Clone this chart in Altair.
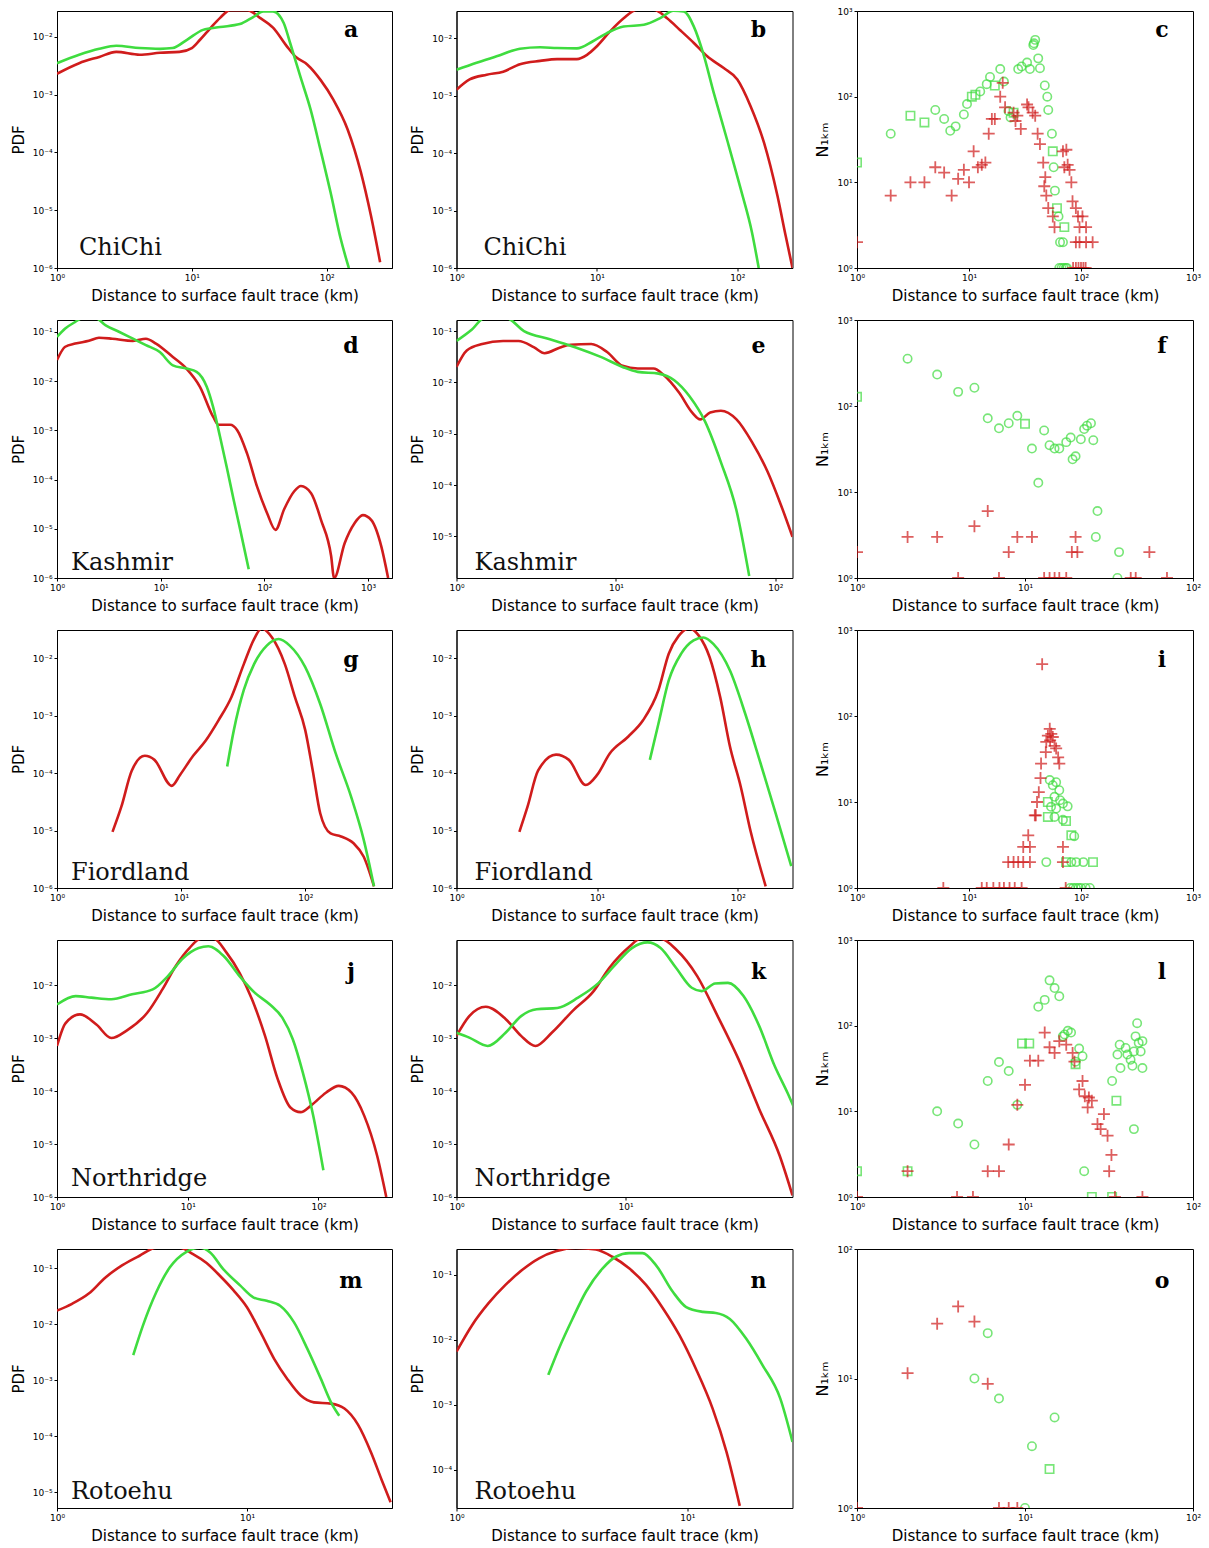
import altair as alt
import pandas as pd

RED = "#d01c1c"
GREEN = "#3fdc3f"
XTITLE = "Distance to surface fault trace (km)"
SUP = ("['10\u207b\u2076','10\u207b\u2075','10\u207b\u2074','10\u207b\u00b3','10\u207b\u00b2',"
       "'10\u207b\u00b9','10\u2070','10\u00b9','10\u00b2','10\u00b3'][round(log(datum.value)/LN10)+6]")
PLUS = "M-1,0L1,0M0,-1L0,1"

# ---------------- Panel a (ChiChi, PDF) ----------------
a_red_x = [1, 1.46, 2.06, 2.75, 4.1, 5.8, 8.1, 10, 11.5, 13.6, 16.2, 19.2, 25.8, 32, 40, 51, 59, 72, 90, 112, 143, 179, 213, 249]
a_red_y = [2.3e-3, 3.5e-3, 4.5e-3, 5.5e-3, 4.9e-3, 5.3e-3, 5.5e-3, 6.4e-3, 8.9e-3, 0.0138, 0.0213, 0.029, 0.029, 0.0213,
           0.0144, 6.7e-3, 4.5e-3, 3.3e-3, 1.8e-3, 8.2e-4, 2.5e-4, 4.6e-5, 8e-6, 1.26e-6]
a_grn_x = [1, 1.46, 2.06, 2.75, 4.1, 5.8, 7.2, 9.2, 12.1, 16.2, 22.7, 28.5, 33.8, 40, 48, 53.5, 64, 76, 90, 107, 127, 146]
a_grn_y = [3.5e-3, 4.9e-3, 6.2e-3, 7e-3, 6.4e-3, 6.2e-3, 6.4e-3, 8.9e-3, 0.0132, 0.0148, 0.0166, 0.022, 0.0275, 0.0275,
           0.0174, 7.9e-3, 2e-3, 5.5e-4, 1.1e-4, 2e-5, 3.2e-6, 1e-6]

# ---------------- Panel b ----------------
b_red_x = [1, 1.24, 1.64, 2.15, 2.83, 3.94, 5.2, 7.2, 8.5, 10, 12.4, 15.5, 19.3, 25.4, 31.6, 39, 49, 61, 80, 100, 124, 155, 193, 221, 247]
b_red_y = [1.26e-3, 1.9e-3, 2.3e-3, 2.6e-3, 3.5e-3, 4e-3, 4.3e-3, 4.3e-3, 5.1e-3, 7.2e-3, 0.013, 0.022, 0.031, 0.031, 0.022,
           0.0138, 8.2e-3, 4.8e-3, 3e-3, 1.9e-3, 6.6e-4, 1.5e-4, 1.8e-5, 3.6e-6, 1e-6]
b_grn_x = [1, 1.39, 1.93, 2.83, 3.94, 5.2, 7.2, 9.3, 11.8, 15.5, 21.6, 28.4, 35, 41.6, 49, 57, 68, 84.5, 106, 127, 142]
b_grn_y = [2.8e-3, 3.7e-3, 4.8e-3, 6.5e-3, 6.9e-3, 6.7e-3, 6.6e-3, 8.7e-3, 0.0122, 0.0158, 0.017, 0.0224, 0.03, 0.029,
           0.0158, 5.5e-3, 1.1e-3, 1.7e-4, 2.3e-5, 4.2e-6, 1e-6]

# ---------------- Panel c (N_1km scatter) ----------------
c_red_x = [1, 2, 3, 4, 5, 6, 7, 8, 9, 10, 11, 12, 13, 14, 15, 16, 17, 19, 20, 21, 25, 26, 27, 29, 33, 34, 37, 39, 41, 43,
           46, 47, 48, 49, 51, 56, 58, 69, 71, 76, 82, 84, 90, 94, 97, 103, 111, 90, 97, 111, 127, 85, 90, 95, 100, 105, 110, 74, 79]
c_red_y = [2, 7, 10, 10, 15, 13, 7, 11, 14, 10, 23, 15, 16, 17, 37, 55, 55, 100, 145, 75, 65, 52, 60, 42, 81, 75, 65, 60, 37, 28,
           17, 9, 11.5, 7, 5, 4, 3, 23, 15, 16, 10, 6, 5, 4, 3, 4, 3, 2, 2, 2, 2, 1, 1, 1, 1, 1, 1, 24, 14]
c_grn_x = [1, 2, 3, 4, 5, 6, 6.8, 7.6, 9, 9.6, 10.6, 11.4, 12.6, 14.4, 15.4, 17, 19, 20.5, 22.5, 23.5,
           25, 27.5, 29.5, 33, 35, 37.5, 39, 38, 41.5, 43, 47.5, 50, 51, 55, 56, 57, 58.5, 61, 63, 71,
           65, 69, 64, 67, 70, 73, 75]
c_grn_y = [17, 37, 60, 50, 70, 55, 40, 45, 62, 82, 100, 105, 115, 140, 170, 135, 210, 150, 68, 57,
           65, 210, 225, 250, 210, 400, 460, 420, 280, 215, 135, 100, 70, 37, 23, 15, 8, 5, 4, 3,
           2, 2, 1, 1, 1, 1, 1]
c_grn_s = ["s", "o", "s", "s", "o", "o", "o", "o", "o", "o", "s", "s", "o", "o", "o", "s", "o", "o", "o", "o",
           "s", "o", "o", "o", "o", "o", "o", "o", "o", "o", "o", "o", "o", "o", "s", "o", "o", "s", "o", "s",
           "o", "o", "o", "o", "o", "o", "o"]

# ---------------- Panel d (Kashmir) ----------------
d_red_x = [1, 1.2, 1.5, 2.03, 2.54, 3.4, 5.4, 7.2, 9, 13.1, 17.7, 23.9, 32, 36, 46.8, 54.5, 68, 85, 106, 128,
           155, 194, 225, 282, 352, 440, 470, 594, 740, 890, 1075, 1340, 1560]
d_red_y = [0.027, 0.05, 0.058, 0.066, 0.076, 0.073, 0.066, 0.073, 0.058, 0.031, 0.018, 7.7e-3, 1.9e-3, 1.3e-3, 1.3e-3,
           1.02e-3, 3.4e-4, 7.2e-5, 2.1e-5, 9.5e-6, 2.5e-5, 5.8e-5, 7.4e-5, 5.3e-5, 1.5e-5, 2.8e-6, 1e-6, 5.1e-6,
           1.3e-5, 1.9e-5, 1.5e-5, 4.4e-6, 1e-6]
d_grn_x = [1, 1.2, 1.5, 1.75, 2.36, 2.95, 4, 5.4, 7.2, 9.8, 13.1, 17.7, 22.2, 27.8, 32, 37.3, 43.3, 50.5, 58.5, 70.6]
d_grn_y = [0.079, 0.117, 0.16, 0.19, 0.19, 0.136, 0.1, 0.073, 0.054, 0.039, 0.021, 0.018, 0.0155, 7.7e-3, 3e-3,
           7.5e-4, 1.8e-4, 3.9e-5, 9.5e-6, 1.5e-6]

# ---------------- Panel e ----------------
e_red_x = [1, 1.16, 1.45, 1.96, 2.45, 3.07, 3.57, 4.47, 5.2, 7, 8.8, 11, 13.7, 17.2, 20, 25, 30, 33.8, 39, 45.5,
           57, 71.5, 89.5, 108, 128]
e_red_y = [0.02, 0.042, 0.056, 0.064, 0.064, 0.048, 0.037, 0.048, 0.054, 0.056, 0.039, 0.021, 0.0186, 0.0186, 0.0138,
           6.2e-3, 2.6e-3, 1.9e-3, 2.6e-3, 2.8e-3, 1.9e-3, 6.8e-4, 1.8e-4, 4.2e-5, 9.8e-6]
e_grn_x = [1, 1.25, 1.5, 2.04, 2.65, 3.85, 5.6, 8.1, 11, 13.7, 18.5, 23.2, 29, 36.3, 45.5, 57, 68.5]
e_grn_y = [0.064, 0.107, 0.18, 0.18, 0.1, 0.069, 0.048, 0.031, 0.02, 0.016, 0.0148, 0.011, 5.3e-3, 1.7e-3, 2.8e-4,
           3.2e-5, 1.7e-6]

# ---------------- Panel f ----------------
f_red_x = [1, 2, 3, 4, 5, 6, 7, 8, 9, 11, 13, 14, 15, 16, 17.6, 19, 20.5, 20, 42.6, 45.6, 55, 70]
f_red_y = [2, 3, 3, 1, 4, 6, 1, 2, 3, 3, 1, 1, 1, 1, 1, 2, 2, 3, 1, 1, 2, 1]
f_grn_x = [1, 2, 3, 4, 5, 6, 7, 8, 9, 10, 11, 12, 13, 14, 15, 16, 17.6, 18.7, 19.2, 20,
           21.5, 22.5, 23.4, 24.7, 25.5, 27, 26.4, 36.3, 35.5]
f_grn_y = [128, 355, 232, 146, 163, 72, 55, 63, 77, 62, 32, 12.8, 52, 35, 32, 32, 38, 43, 24, 26,
           41, 54, 59, 63, 40, 6, 3, 2, 1]
f_grn_s = ["s", "o", "o", "o", "o", "o", "o", "o", "o", "s", "o", "o", "o", "o", "o", "o", "o", "o", "o", "o",
           "o", "o", "o", "o", "o", "o", "o", "o", "o"]

# ---------------- Panel g (Fiordland) ----------------
g_red_x = [2.8, 3.3, 4.0, 5.1, 6.1, 8.4, 9.8, 12.5, 15.8, 20, 25.4, 32, 38.7, 44.6, 54, 68.5, 82.6, 100, 115, 132,
           160, 194, 245, 296, 358]
g_red_y = [9.5e-6, 2.6e-5, 1.1e-4, 2e-4, 1.7e-4, 6e-5, 9.3e-5, 2e-4, 3.7e-4, 8.3e-4, 2.1e-3, 7.9e-3, 0.0216, 0.033,
           0.0229, 7.9e-3, 2.1e-3, 5.6e-4, 1.1e-4, 2e-5, 8.9e-6, 7.9e-6, 6e-6, 3.5e-6, 1.07e-6]
g_grn_x = [23.5, 26.6, 32, 38.7, 49, 61, 75, 100, 132, 176, 234, 296, 358]
g_grn_y = [1.3e-4, 5.6e-4, 2.8e-3, 7.9e-3, 0.0166, 0.0216, 0.0166, 7e-3, 1.6e-3, 2.2e-4, 3.9e-5, 6.9e-6, 1.07e-6]

# ---------------- Panel h ----------------
h_red_x = [2.8, 3.2, 3.8, 5.1, 6.3, 8.3, 10, 12.3, 16.6, 21.2, 27.3, 32.3, 38, 45, 53, 63, 75, 88, 105, 123, 158]
h_red_y = [9.5e-6, 2.6e-5, 1.1e-4, 2.1e-4, 1.7e-4, 6.2e-5, 9.3e-5, 2.2e-4, 4.3e-4, 8.3e-4, 2.8e-3, 0.012, 0.0245,
           0.033, 0.0245, 0.0105, 2.1e-3, 2.9e-4, 5.8e-5, 1e-5, 1.07e-6]
h_grn_x = [23.7, 27.3, 32.3, 39.6, 48.5, 57, 67, 88, 113, 145, 186, 240]
h_grn_y = [1.7e-4, 7.3e-4, 4.1e-3, 0.012, 0.0204, 0.023, 0.0178, 6.1e-3, 1.08e-3, 1.5e-4, 2e-5, 2.4e-6]

# ---------------- Panel i ----------------
i_red_x = [45, 52.6, 50.6, 54.3, 56, 53, 49, 58, 48.5, 60, 62.5, 64, 44, 43.5, 42, 40.5, 38.7, 39.5, 33.8, 30.5,
           35, 22.4, 25, 27.5, 30.5, 35, 69, 69, 5.9, 13, 14.4, 16.5, 18.7, 20.5, 23, 25.6, 29.5, 73]
i_red_y = [400, 71, 59, 62, 57, 52, 50, 45, 38, 42, 33, 28, 28, 19, 13, 10, 7, 7, 4.1, 3,
           3, 2, 2, 2, 2, 2, 2, 3, 1, 1, 1, 1, 1, 1, 1, 1, 1, 1]
i_grn_x = [52.6, 56, 60, 64, 58, 65, 50.6, 54, 60, 69, 76, 50.6, 58, 69, 73.5, 82, 87, 49, 73.5, 82,
           90.6, 105, 128, 80, 85, 90, 95, 100, 110, 120]
i_grn_y = [18, 15.7, 17, 13.7, 11.5, 10.5, 10, 8.8, 8.4, 9.6, 8.9, 6.7, 6.7, 6.2, 6, 4.1, 4, 2, 2, 2,
           2, 2, 2, 1, 1, 1, 1, 1, 1, 1]
i_grn_s = ["o", "o", "o", "o", "o", "o", "s", "o", "o", "o", "o", "s", "o", "o", "s", "s", "o", "o", "s", "o",
           "o", "o", "s", "o", "o", "o", "o", "o", "o", "o"]

# ---------------- Panel j (Northridge) ----------------
j_red_x = [1, 1.16, 1.5, 2.0, 2.6, 3.43, 4.9, 6.4, 8.1, 10.3, 12.6, 15.8, 19.8, 24.9, 31, 39, 48.7, 61, 73, 87.5,
           114, 143, 179, 224, 281, 330]
j_red_y = [7.1e-4, 1.9e-3, 2.8e-3, 1.8e-3, 1e-3, 1.4e-3, 3e-3, 8.3e-3, 0.023, 0.05, 0.075, 0.075, 0.041, 0.017,
           5.4e-3, 1.1e-3, 1.7e-4, 4.9e-5, 4e-5, 5.3e-5, 9.3e-5, 1.25e-4, 9.3e-5, 3.4e-5, 6e-6, 1e-6]
j_grn_x = [1, 1.39, 1.83, 2.6, 3.75, 5.4, 7.05, 9.2, 12.1, 14.4, 18.9, 24.9, 32.5, 42.5, 53, 63.6, 76, 91, 109]
j_grn_y = [4.3e-3, 6.2e-3, 5.8e-3, 5.4e-3, 6.7e-3, 8.3e-3, 0.0148, 0.032, 0.05, 0.054, 0.035, 0.0148, 7.2e-3,
           4.3e-3, 2.4e-3, 9.5e-4, 2.2e-4, 3.5e-5, 3.2e-6]

# ---------------- Panel k ----------------
k_red_x = [1, 1.19, 1.49, 1.95, 2.41, 2.93, 3.67, 4.88, 6.47, 8, 10.6, 12.2, 16.1, 19.9, 26.5, 35, 46.5, 61.6, 81.5, 97]
k_red_y = [1.1e-3, 2.6e-3, 3.9e-3, 2.3e-3, 1.1e-3, 7.1e-4, 1.27e-3, 3.3e-3, 7.7e-3, 0.021, 0.054, 0.075, 0.075,
           0.047, 0.0148, 2.6e-3, 4e-4, 4.6e-5, 6e-6, 1.07e-6]
k_grn_x = [1, 1.19, 1.53, 1.95, 2.41, 2.98, 3.95, 5.23, 6.93, 8.56, 10.9, 13.5, 16.1, 19.9, 24.6, 28.2, 33.8, 40.3,
           49.8, 61.6, 76, 90.6, 99]
k_grn_y = [1.26e-3, 1.02e-3, 7.1e-4, 1.26e-3, 2.6e-3, 3.5e-3, 3.7e-3, 5.8e-3, 0.011, 0.023, 0.05, 0.064, 0.05,
           0.021, 8.9e-3, 7.7e-3, 0.0107, 0.011, 6.2e-3, 1.7e-3, 3e-4, 9.3e-5, 4.9e-5]

# ---------------- Panel l ----------------
l_red_x = [1, 2, 3.94, 4.9, 6, 7, 8, 9, 10, 10.7, 12, 13.1, 14, 15, 16, 17.6, 19.2, 19.7, 22, 21,
           22.7, 24, 25, 23.6, 27, 28.2, 29.5, 31, 32.7, 31.7, 34.3, 50]
l_red_y = [1, 2, 1, 1, 2, 2, 4.1, 11.9, 20.4, 39, 39, 83, 56, 48, 66, 60, 48, 38, 22.6, 18,
           15, 14.5, 13.3, 11.1, 7.1, 6.2, 9.3, 5.2, 3.1, 2, 1, 1]
l_grn_x = [1, 2, 3, 4, 5, 6, 7, 8, 9, 9.6, 10.6, 12, 13.1, 14, 15, 16, 17.2, 18, 18.8, 16.8,
           21, 22, 20, 20, 22.5, 25, 33, 35, 33, 35.5, 36.6, 37, 39.7, 40.7, 42.5, 43.6, 44.5, 44.5, 45.5, 46.5,
           47.5, 48.8, 50, 50]
l_grn_y = [2, 2, 10, 7.2, 4.1, 22.6, 37.6, 29.5, 11.9, 62, 62, 166, 200, 338, 275, 220, 79, 87, 83, 75,
           54, 44, 35.5, 38, 2, 1, 22.6, 13.3, 1, 46, 60, 32, 55, 46, 40, 34, 50, 6.2, 75, 107,
           63, 50, 32, 66]
l_grn_s = ["s", "s", "o", "o", "o", "o", "o", "o", "o", "s", "s", "o", "o", "o", "o", "o", "o", "o", "o", "o",
           "o", "o", "s", "o", "o", "s", "o", "s", "s", "o", "o", "o", "o", "o", "o", "o", "o", "o", "o", "o",
           "o", "o", "o", "o"]

# ---------------- Panel m (Rotoehu) ----------------
m_red_x = [1, 1.2, 1.47, 1.8, 2.21, 2.72, 3.33, 4.42, 5.2, 6.13, 7.2, 8.5, 10, 11.8, 13.9, 16.3, 19.2, 22.5, 27.7,
           32.6, 38.4, 45, 51, 57]
m_red_y = [0.0174, 0.023, 0.035, 0.068, 0.113, 0.166, 0.23, 0.23, 0.178, 0.123, 0.073, 0.04, 0.02, 7.1e-3, 2.4e-3,
           1.05e-3, 5.3e-4, 4e-4, 3.8e-4, 3.1e-4, 1.6e-4, 5.1e-5, 1.7e-5, 6.6e-6]
m_grn_x = [2.52, 2.83, 3.33, 3.92, 4.8, 5.65, 6.4, 7.5, 9.2, 10.8, 12.7, 15, 17.7, 20.8, 24.5, 27.7, 30.6]
m_grn_y = [2.8e-3, 9.3e-3, 0.037, 0.102, 0.195, 0.23, 0.19, 0.096, 0.049, 0.03, 0.026, 0.021, 0.0107, 3.6e-3,
           1.05e-3, 4e-4, 2.3e-4]

# ---------------- Panel n ----------------
n_red_x = [1, 1.17, 1.38, 1.63, 1.93, 2.28, 2.69, 3.29, 4.02, 4.74, 5.6, 6.63, 7.83, 9.25, 10.9, 12.9, 14.8, 16.9]
n_red_y = [6.6e-3, 0.017, 0.037, 0.07, 0.12, 0.18, 0.23, 0.26, 0.245, 0.19, 0.126, 0.07, 0.031, 0.0118, 3.6e-3,
           8.7e-4, 1.9e-4, 2.8e-5]
n_grn_x = [2.5, 2.78, 3.18, 3.64, 4.3, 4.9, 5.6, 6.4, 7.33, 8.66, 9.9, 11.7, 13.3, 15.3, 18.0, 21.2, 25.3, 28.6]
n_grn_y = [2.9e-3, 7.4e-3, 0.021, 0.055, 0.126, 0.19, 0.216, 0.216, 0.14, 0.055, 0.032, 0.027, 0.026, 0.021,
           0.0105, 4.1e-3, 1.26e-3, 2.7e-4]

# ---------------- Panel o ----------------
o_red_x = [1, 2, 3, 4, 5, 6, 7, 8, 9]
o_red_y = [1, 11, 26.5, 36, 27.5, 9.1, 1, 1, 1]
o_grn_x = [6, 5, 7, 10, 11, 15, 14]
o_grn_y = [22.4, 10, 7, 1, 3, 5, 2]
o_grn_s = ["o", "o", "o", "o", "o", "o", "s"]

W = [335, 336, 336]
H = [257, 258, 258, 257, 259]
LETTER_X = [294, 302, 305]
LETTER_BASE = [26, 33, 37, 39, 39]
PLACE_X = [[22, 27], [14, 18], [14, 18], [14, 18], [14, 18]]
PLACE_BASE = [13, 8, 8, 11, 9]


def letter_layer(col, row, letter):
    return alt.Chart(pd.DataFrame({"t": [letter]})).mark_text(
        font="DejaVu Serif", fontWeight="bold", fontSize=22, align="center", baseline="alphabetic", color="black"
    ).encode(text="t:N", x=alt.value(LETTER_X[col]), y=alt.value(LETTER_BASE[row]))


def place_layer(col, row, place):
    return alt.Chart(pd.DataFrame({"t": [place]})).mark_text(
        font="DejaVu Serif", fontSize=24, align="left", baseline="alphabetic", color="#111111"
    ).encode(text="t:N", x=alt.value(PLACE_X[row][col]), y=alt.value(H[row] - PLACE_BASE[row]))


def pdf_panel(col, row, xdom, ydom, xvals, yvals, rx, ry, gx, gy, letter, place):
    xs = alt.Scale(type="log", domain=xdom, nice=False)
    ys = alt.Scale(type="log", domain=ydom, nice=False)
    X = alt.X("x:Q", scale=xs, axis=alt.Axis(values=xvals, labelExpr=SUP, title=XTITLE))
    Y = alt.Y("y:Q", scale=ys, axis=alt.Axis(values=yvals, labelExpr=SUP, title="PDF"))
    red = alt.Chart(pd.DataFrame({"x": rx, "y": ry})).mark_line(
        color=RED, strokeWidth=2.6, interpolate="monotone", clip=True).encode(x=X, y=Y)
    grn = alt.Chart(pd.DataFrame({"x": gx, "y": gy})).mark_line(
        color=GREEN, strokeWidth=2.6, interpolate="monotone", clip=True).encode(x=X, y=Y)
    return alt.layer(red, grn, letter_layer(col, row, letter), place_layer(col, row, place)).properties(
        width=W[col], height=H[row])


def scatter_panel(row, xmax, ymax, rx, ry, gx, gy, gs, letter):
    xvals = [1, 10, 100, 1000] if xmax >= 1000 else [1, 10, 100]
    yvals = [1, 10, 100, 1000] if ymax >= 1000 else [1, 10, 100]
    xs = alt.Scale(type="log", domain=[1, xmax], nice=False)
    ys = alt.Scale(type="log", domain=[1, ymax], nice=False)
    X = alt.X("x:Q", scale=xs, axis=alt.Axis(values=xvals, labelExpr=SUP, title=XTITLE))
    Y = alt.Y("y:Q", scale=ys, axis=alt.Axis(values=yvals, labelExpr=SUP, title="N\u2081\u2096\u2098",
                                             titleFontSize=16, titlePadding=6))
    grn = alt.Chart(pd.DataFrame({"x": gx, "y": gy, "s": gs})).mark_point(
        filled=False, color=GREEN, strokeWidth=1.6, size=70, clip=True).encode(
        x=X, y=Y, shape=alt.Shape("s:N", scale=alt.Scale(domain=["o", "s"], range=["circle", "square"]), legend=None))
    red = alt.Chart(pd.DataFrame({"x": rx, "y": ry})).mark_point(
        shape=PLUS, filled=False, color=RED, strokeWidth=1.8, size=144, clip=True).encode(x=X, y=Y)
    return alt.layer(grn, red, letter_layer(2, row, letter)).properties(width=W[2], height=H[row])


panels = [
    pdf_panel(0, 0, [1, 305], [1e-6, 0.028], [1, 10, 100], [1e-6, 1e-5, 1e-4, 1e-3, 1e-2],
              a_red_x, a_red_y, a_grn_x, a_grn_y, "a", "ChiChi"),
    pdf_panel(1, 0, [1, 247], [1e-6, 0.0295], [1, 10, 100], [1e-6, 1e-5, 1e-4, 1e-3, 1e-2],
              b_red_x, b_red_y, b_grn_x, b_grn_y, "b", "ChiChi"),
    scatter_panel(0, 1000, 1000, c_red_x, c_red_y, c_grn_x, c_grn_y, c_grn_s, "c"),
    pdf_panel(0, 1, [1, 1700], [1e-6, 0.175], [1, 10, 100, 1000], [1e-6, 1e-5, 1e-4, 1e-3, 1e-2, 1e-1],
              d_red_x, d_red_y, d_grn_x, d_grn_y, "d", "Kashmir"),
    pdf_panel(1, 1, [1, 128], [1.55e-6, 0.164], [1, 10, 100], [1e-5, 1e-4, 1e-3, 1e-2, 1e-1],
              e_red_x, e_red_y, e_grn_x, e_grn_y, "e", "Kashmir"),
    scatter_panel(1, 100, 1000, f_red_x, f_red_y, f_grn_x, f_grn_y, f_grn_s, "f"),
    pdf_panel(0, 2, [1, 500], [1e-6, 0.031], [1, 10, 100], [1e-6, 1e-5, 1e-4, 1e-3, 1e-2],
              g_red_x, g_red_y, g_grn_x, g_grn_y, "g", "Fiordland"),
    pdf_panel(1, 2, [1, 245], [1e-6, 0.031], [1, 10, 100], [1e-6, 1e-5, 1e-4, 1e-3, 1e-2],
              h_red_x, h_red_y, h_grn_x, h_grn_y, "h", "Fiordland"),
    scatter_panel(2, 1000, 1000, i_red_x, i_red_y, i_grn_x, i_grn_y, i_grn_s, "i"),
    pdf_panel(0, 3, [1, 365], [1e-6, 0.071], [1, 10, 100], [1e-6, 1e-5, 1e-4, 1e-3, 1e-2],
              j_red_x, j_red_y, j_grn_x, j_grn_y, "j", "Northridge"),
    pdf_panel(1, 3, [1, 97], [1e-6, 0.071], [1, 10], [1e-6, 1e-5, 1e-4, 1e-3, 1e-2],
              k_red_x, k_red_y, k_grn_x, k_grn_y, "k", "Northridge"),
    scatter_panel(3, 100, 1000, l_red_x, l_red_y, l_grn_x, l_grn_y, l_grn_s, "l"),
    pdf_panel(0, 4, [1, 58], [5.2e-6, 0.219], [1, 10], [1e-5, 1e-4, 1e-3, 1e-2, 1e-1],
              m_red_x, m_red_y, m_grn_x, m_grn_y, "m", "Rotoehu"),
    pdf_panel(1, 4, [1, 28.6], [2.6e-5, 0.25], [1, 10], [1e-4, 1e-3, 1e-2, 1e-1],
              n_red_x, n_red_y, n_grn_x, n_grn_y, "n", "Rotoehu"),
    scatter_panel(4, 100, 100, o_red_x, o_red_y, o_grn_x, o_grn_y, o_grn_s, "o"),
]

chart = alt.concat(
    *panels, columns=3, spacing={"row": 52, "column": 64.5}, bounds="flush", align="each"
).properties(
    padding={"left": 10, "top": 6, "right": 5, "bottom": 5}, background="white"
).configure_view(
    stroke="black", strokeWidth=1
).configure_axis(
    grid=False, labelFont="DejaVu Sans", labelFontSize=9, labelColor="black",
    titleFont="DejaVu Sans", titleFontSize=15, titleFontWeight="normal", titleColor="black",
    tickSize=3, tickColor="black", domainColor="black", labelPadding=2, titlePadding=6
).configure_axisX(
    labelFlush=False, titlePadding=6
)

chart.save("out.html", embed_options={"renderer": "svg", "actions": False})
